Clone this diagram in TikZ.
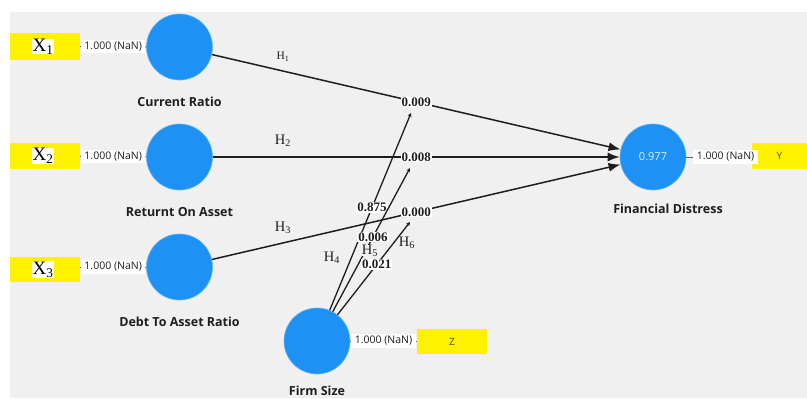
\documentclass[tikz,border=0pt]{standalone}
\usepackage{fontspec}
\setmainfont{Liberation Serif}
\newfontfamily\uifont{Open Sans}
\usetikzlibrary{arrows.meta}
\definecolor{canvas}{RGB}{240,240,240}
\definecolor{lvblue}{RGB}{30,145,245}
\definecolor{tagyellow}{RGB}{255,242,0}
\definecolor{ink}{RGB}{30,30,30}
\tikzset{
  lv/.style={circle, fill=lvblue, draw=lvblue!70!white, line width=0.6pt,
    minimum size=66pt, inner sep=0pt, text=white!88!lvblue,
    font=\uifont\fontsize{11}{13}\selectfont},
  lvname/.style={font=\uifont\bfseries\fontsize{12.5}{15}\selectfont, text=ink},
  tagbox/.style={fill=tagyellow, inner sep=0pt},
  xtag/.style={font=\fontsize{19}{21}\selectfont, text=black, fill=white, inner sep=0.3pt},
  tagtext/.style={font=\uifont\fontsize{10}{12}\selectfont, text=ink!80!tagyellow},
  loadlbl/.style={fill=white, inner xsep=3.5pt, inner ysep=2pt,
    font=\uifont\fontsize{10.5}{12}\selectfont, text=ink},
  loadline/.style={draw=ink!70, line width=0.8pt},
  path/.style={draw=ink, line width=1.5pt, -{Latex[length=12pt,width=9pt]}},
  modpath/.style={draw=ink, line width=1.3pt, -{Stealth[length=4pt,width=4pt]}},
  coef/.style={fill=white, inner sep=1pt,
    font=\bfseries\fontsize{13}{15}\selectfont, text=ink},
  hyp/.style={font=\fontsize{14.5}{16}\selectfont, text=ink, inner sep=0.5pt},
}
\begin{document}
\begin{tikzpicture}[x=1pt,y=-1pt]
\useasboundingbox (0,0) rectangle (807,399);
\fill[white] (0,0) rectangle (807,399);
\fill[canvas] (10,12) rectangle (807,398);

% constructs
\node[lv] (cr) at (179.5,47) {};
\node[lv] (ra) at (179.5,157) {};
\node[lv] (da) at (179.5,267) {};
\node[lv] (fs) at (317,341) {};
\node[lv] (fd) at (653,157) {0.977};

\node[lvname] (crn) at (179.5,102) {Current Ratio};
\node[lvname] (ran) at (179.5,212) {Returnt On Asset};
\node[lvname] (dan) at (179.5,322) {Debt To Asset Ratio};
\node[lvname] (fsn) at (317,390.5) {Firm Size};
\node[lvname] (fdn) at (668,209) {Financial Distress};

% indicator tags
\node[tagbox, minimum width=70pt, minimum height=27pt] (x1) at (45,46.5) {};
\node[tagbox, minimum width=70pt, minimum height=26pt] (x2) at (45,156) {};
\node[tagbox, minimum width=70pt, minimum height=25pt] (x3) at (45,269.5) {};
\node[tagbox, minimum width=70pt, minimum height=25pt] (z) at (452,341.5) {};
\node[tagbox, minimum width=55pt, minimum height=26pt] (y) at (779.5,156) {};
\node[xtag] at ([xshift=-2pt]x1.center) {X\textsubscript{1}};
\node[xtag] at ([xshift=-2pt]x2.center) {X\textsubscript{2}};
\node[xtag] at ([xshift=-2pt]x3.center) {X\textsubscript{3}};
\node[tagtext] at (z) {Z};
\node[tagtext] at (y) {Y};

% loadings
\draw[loadline] (x1) -- (cr) node[loadlbl, midway] {1.000 (NaN)};
\draw[loadline] (x2) -- (ra) node[loadlbl, midway] {1.000 (NaN)};
\draw[loadline] (x3.east |- da) -- (da) node[loadlbl, midway] {1.000 (NaN)};
\draw[loadline] (fs) -- (z.west |- fs) node[loadlbl, midway] {1.000 (NaN)};
\draw[loadline] (fd) -- (y.west |- fd) node[loadlbl, pos=0.6] {1.000 (NaN)};

% structural paths
\draw[path] (cr) -- (fd) node[coef, midway] (c1) {0.009};
\draw[path] (ra) -- (fd) node[coef, midway] (c2) {0.008};
\draw[path] (da) -- (fd) node[coef, midway] (c3) {0.000};

% hypothesis labels (H5 sits on its line, so it is drawn first)
\node[hyp, font=\fontsize{11.5}{13}\selectfont] (h1) at (283,57) {H\textsubscript{1}};
\node[hyp] (h2) at (283,141) {H\textsubscript{2}};
\node[hyp] (h3) at (283,228) {H\textsubscript{3}};
\node[hyp] (h4) at (332,258) {H\textsubscript{4}};
\node[hyp] (h6) at (407,243) {H\textsubscript{6}};

% moderating effects of firm size
\coordinate (m1) at (411,113);
\coordinate (m2) at (410,168);
\coordinate (m3) at (410,222);
\draw[modpath] (fs) -- (m1) node[coef, pos=0.52] {0.875};
\draw[modpath] (fs) -- (m2) node[coef, pos=0.52] (c5) {0.006};
\draw[modpath] (fs) -- (m3) node[coef, pos=0.54] (c6) {0.021};
\node[hyp, fill=canvas, anchor=north, inner sep=0pt] (h5) at ([xshift=-3pt, yshift=-1.5pt]c5.south) {H\textsubscript{5}};
\end{tikzpicture}
\end{document}
